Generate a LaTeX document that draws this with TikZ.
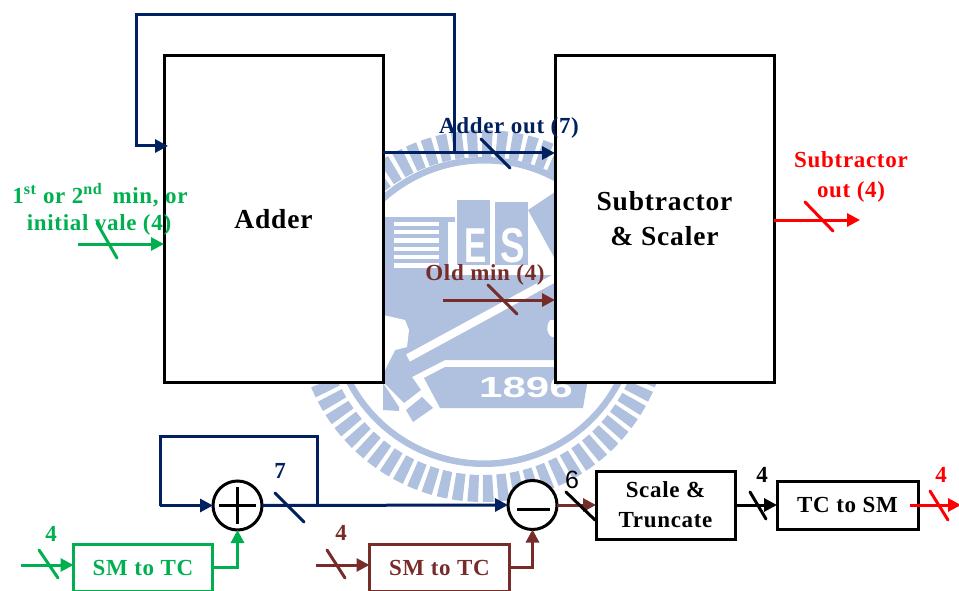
\documentclass[tikz,border=0pt]{standalone}
\usepackage{fontspec}
\setmainfont{Liberation Serif}
\newfontfamily\lblfont[LetterSpace=3]{Liberation Serif}
\newfontfamily\wmfont{Liberation Sans}
\usetikzlibrary{arrows.meta}
\definecolor{navy}{HTML}{002060}
\definecolor{brownred}{HTML}{772C2A}
\definecolor{grn}{HTML}{00B050}
\definecolor{wm}{HTML}{B0C0DF}
\tikzset{
  bigbox/.style={draw=black,fill=white,line width=3pt,minimum width=219pt,minimum height=326pt,inner sep=0pt,outer sep=0pt,align=center,font=\fontsize{27.5}{35}\selectfont\lblfont\bfseries},
  smallbox/.style={draw=#1,fill=white,text=#1,line width=3pt,inner sep=0pt,outer sep=0pt,align=center,font=\fontsize{23}{30}\selectfont\lblfont\bfseries},
  sumop/.style={draw=black,fill=white,circle,line width=3pt,minimum size=49pt,inner sep=0pt,outer sep=0pt},
  lbl/.style={text=#1,inner sep=0pt,align=center,font=\fontsize{23}{30}\selectfont\lblfont\bfseries},
  wire/.style={draw=#1,line width=3pt},
  arr/.style={draw=#1,line width=3pt,-{Triangle[length=13pt,width=13pt]}},
  slash/.style={draw=#1,line width=3pt,line cap=round},
  wmtext/.style={text=white,inner sep=0pt,font=\wmfont\bfseries}
}
\begin{document}
\begin{tikzpicture}[x=1pt,y=-1pt]
\useasboundingbox (0,0) rectangle (959,591);
\clip (0,0) rectangle (959,591);
% ---- watermark ----
\draw[wm,line width=27pt,dash pattern=on 10pt off 4.5pt] (483,316) circle (172.5);
\draw[wm,line width=6.5pt] (484,312) circle (151.75);
\fill[wm] (385,217) rectangle (455,275);
\foreach \ya/\yb in {222/226,230/234,238/243,247/251,255/259,263/268}
  \fill[white] (394,\ya) rectangle (439,\yb);
\fill[white] (448,222) rectangle (455,275);
\fill[wm] (457,200) rectangle (490,265);
\fill[wm] (495,202) rectangle (528,265);
\node[wmtext,font=\fontsize{49}{49}\selectfont\wmfont\bfseries] (wmE) at (476,246) {\scalebox{.68}[1]{E}};
\node[wmtext,font=\fontsize{49}{49}\selectfont\wmfont\bfseries] (wmS) at (513,246) {\scalebox{.75}[1]{S}};
\fill[wm] (528,210) -- (555,192) -- (555,259) -- cycle;
\fill[wm] (383,275) -- (555,275) -- (555,360) -- (445,360) -- (412,377) -- (421,390) -- (404,403) -- (383,382) -- cycle;
\fill[white] (383,315) -- (405,320) -- (409,330) -- (407,347) -- (395,350) -- (385,370) -- (383,370) -- cycle;
\draw[white,line width=8pt] (408,358) -- (555,278);
\fill[white] (550,320) .. controls (546,326) and (546,333) .. (552,337) -- (555,337) -- (555,320) -- cycle;
\fill[wm] (424,378) -- (445,367) -- (590,367) -- (583,408) -- (440,408) -- cycle;
\node[wmtext,font=\fontsize{29}{29}\selectfont\wmfont\bfseries] (wm1896) at (526,388) {\scalebox{1.45}[1]{1896}};
\fill[wm] (383,383) -- (399,407) -- (399,411) -- (383,410) -- cycle;
\fill[wm] (406,410) -- (422,397) -- (433,408) -- (413,422) -- cycle;
% ---- blocks ----
\node[bigbox] (adder) at (273.5,219) {Adder};
\node[bigbox] (sub) at (664.5,219) {Subtractor\\\& Scaler};
\node[sumop] (plus) at (237.5,505.5) {};
\node[sumop] (minus) at (532.5,505) {};
\node[smallbox=grn,minimum width=139pt,minimum height=47pt] (smg) at (143,567.5) {SM to TC};
\node[smallbox=brownred,minimum width=140pt,minimum height=47pt] (smb) at (439.5,567.5) {SM to TC};
\node[smallbox=black,minimum width=139pt,minimum height=68pt] (scale) at (665.5,505) {Scale \&\\Truncate};
\node[smallbox=black,minimum width=141pt,minimum height=48pt] (tc) at (847.5,505) {TC to SM};
% ---- named points ----
\coordinate (aoTap) at (454,153);
\coordinate (fbTR) at (454,15);
\coordinate (fbTL) at (136,15);
\coordinate (fbBL) at (136,146);
\coordinate (fbEnd) at (168,146);
\coordinate (oldStart) at (443,300);
\coordinate (greenStart) at (78,244);
\coordinate (subOutEnd) at (860,220);
\coordinate (loopTap) at (317,505.5);
\coordinate (loopTR) at (317,436);
\coordinate (loopTL) at (160,436);
\coordinate (loopBL) at (160,505.5);
\coordinate (gInStart) at (21,565);
\coordinate (bInStart) at (316,565);
\coordinate (rOutStart) at (910,505);
\coordinate (rOutEnd) at (961,505);
% ---- upper connectors ----
\draw[arr=navy] (adder.east |- aoTap) -- (sub.west |- aoTap);
\draw[arr=navy] (aoTap) -- (fbTR) -- (fbTL) -- (fbBL) -- (fbEnd);
\draw[slash=navy] (481,139) -- (510,168);
\draw[arr=brownred] (oldStart) -- (sub.west |- oldStart);
\draw[slash=brownred] (488,285) -- (517,314);
\draw[arr=grn] (greenStart) -- (adder.west |- greenStart);
\draw[slash=grn] (97,223) -- (117,258);
\draw[arr=red] (sub.east |- subOutEnd) -- (subOutEnd);
\draw[slash=red] (805,202) -- (833,231);
% ---- lower row ----
\draw[wire=navy] (loopTap) -- (loopTR) -- (loopTL) -- (loopBL);
\draw[arr=navy] (loopBL) -- (plus.west);
\draw[arr=navy] (plus.east) -- (minus.west);
\draw[slash=navy] (275,493) -- (304,522);
\draw[arr=grn] (gInStart) -- (smg.west |- gInStart);
\draw[slash=grn] (39,550) -- (58,578);
\draw[arr=grn] (smg.east) -| (plus.south);
\draw[arr=brownred] (bInStart) -- (smb.west |- bInStart);
\draw[slash=brownred] (327,550) -- (345,578);
\draw[arr=brownred] (smb.east) -| (minus.south);
\draw[arr=brownred] (minus.east) -- (scale.west);
\draw[slash=black] (566,492) -- (595,520);
\draw[arr=black] (scale.east) -- (tc.west);
\draw[slash=black] (750,492) -- (766,519);
\draw[arr=red] (rOutStart) -- (rOutEnd);
\draw[slash=red] (930,491) -- (948,520);
% plus / minus signs
\draw[black,line width=3pt] (219,505.5) -- (256,505.5);
\draw[black,line width=3pt] (237.5,487) -- (237.5,524);
\draw[black,line width=3pt] (517,509) -- (550,509);
% ---- labels ----
\node[lbl=navy] (l1) at (509,128) {Adder out (7)};
\node[lbl=brownred] (l2) at (485,275) {Old min (4)};
\node[lbl=grn] (l3) at (100,195) {1\textsuperscript{st} or 2\textsuperscript{nd}\, min, or};
\node[lbl=grn] (l4) at (99,225) {initial vale (4)};
\node[lbl=red] (l5) at (851,177) {Subtractor\\out (4)};
\node[lbl=navy] (l6) at (280,471) {7};
\node[lbl=grn] (l7) at (51,534) {4};
\node[lbl=brownred] (l8) at (341,533) {4};
\node[inner sep=0pt,font=\fontsize{25}{25}\selectfont\wmfont] (l9) at (572,480) {6};
\node[lbl=black] (l10) at (762,475) {4};
\node[lbl=red] (l11) at (941,475) {4};
\end{tikzpicture}
\end{document}
